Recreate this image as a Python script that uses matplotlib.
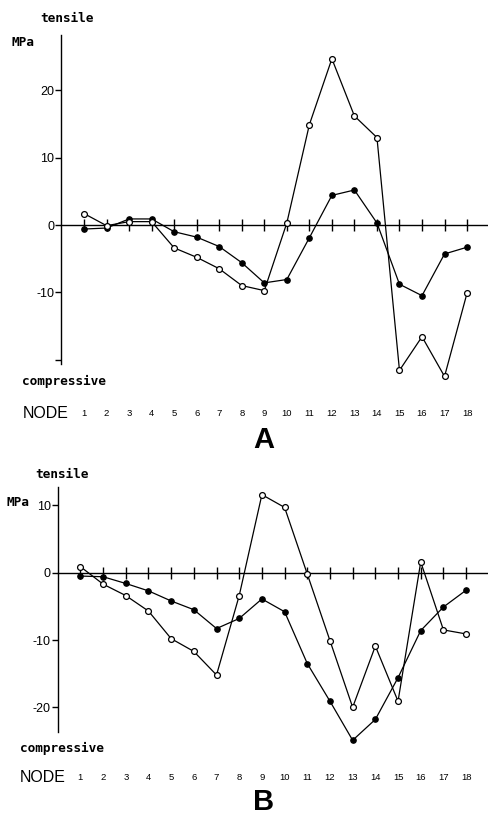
import numpy as np
import matplotlib
matplotlib.use("Agg")
import matplotlib.pyplot as plt
import matplotlib.transforms as mtransforms

# node numbers along the beam
nodes = np.arange(1, 19)

# panel A stresses (MPa)
a_open = [1.7, -0.1, 0.5, 0.5, -3.4, -4.8, -6.5, -9.0, -9.75,
          0.3, 14.9, 24.7, 16.2, 13.0, -21.6, -16.6, -22.5, -10.1]
a_filled = [-0.6, -0.45, 0.9, 0.9, -1.0, -1.8, -3.2, -5.6, -8.6,
            -8.1, -1.9, 4.4, 5.2, 0.3, -8.8, -10.5, -4.3, -3.3]

# panel B stresses (MPa)
b_open = [0.9, -1.7, -3.4, -5.7, -9.8, -11.7, -15.2, -3.4, 11.6,
          9.7, -0.2, -10.1, -20.0, -10.9, -19.1, 1.6, -8.5, -9.1]
b_filled = [-0.5, -0.6, -1.6, -2.7, -4.2, -5.5, -8.3, -6.8, -3.9,
            -5.8, -13.5, -19.1, -24.9, -21.8, -15.6, -8.6, -5.1, -2.6]

a_ticks = [-20, -10, 0, 10, 20]
a_ticklabels = ["", "-10", "0", "10", "20"]
b_ticks = [-20, -10, 0, 10]
b_ticklabels = ["-20", "-10", "0", "10"]

W, H = 489, 817
fig = plt.figure(figsize=(W / 100, H / 100), dpi=100)
fig.patch.set_facecolor("white")

mono = "DejaVu Sans Mono"
sans = "Liberation Sans"
PX_PER_MPA = 6.73


def make_panel(x0, x1, y_zero, ylim, spine_bounds, ticks, ticklabels):
    """Place an axes so that x 0..19 spans pixels x0..x1 and 0 MPa sits at y_zero."""
    top_px = y_zero - ylim[1] * PX_PER_MPA
    bot_px = y_zero - ylim[0] * PX_PER_MPA
    ax = fig.add_axes([x0 / W, 1 - bot_px / H, (x1 - x0) / W, (bot_px - top_px) / H])
    ax.set_xlim(0, 19)
    ax.set_ylim(*ylim)
    ax.patch.set_alpha(0)
    for s in ("top", "right"):
        ax.spines[s].set_visible(False)
    ax.spines["left"].set_bounds(*spine_bounds)
    ax.spines["left"].set_linewidth(1.0)
    ax.spines["bottom"].set_position(("data", 0))
    ax.spines["bottom"].set_linewidth(1.0)
    ax.set_xticks(nodes)
    ax.set_xticklabels([])
    ax.tick_params(axis="x", direction="inout", length=8, width=1.0)
    ax.set_yticks(ticks)
    ax.set_yticklabels(ticklabels, fontsize=9, family=sans)
    ax.tick_params(axis="y", direction="out", length=4, width=1.0, pad=1)
    return ax


def draw_series(ax, open_vals, filled_vals):
    ax.plot(nodes, filled_vals, color="black", lw=0.9, marker="o", ms=3.8,
            mfc="black", mec="black", clip_on=False, zorder=3)
    ax.plot(nodes, open_vals, color="black", lw=0.9, marker="o", ms=4.2,
            mfc="white", mec="black", mew=0.9, clip_on=False, zorder=4)


def node_labels(ax, node_x_px, node_y_px):
    tr = mtransforms.blended_transform_factory(ax.transData, fig.transFigure)
    for n in nodes:
        ax.text(n, 1 - node_y_px / H, str(n), transform=tr, ha="center", va="center",
                fontsize=6.8, family=sans)
    fig.text(node_x_px / W, 1 - node_y_px / H, "NODE",
             ha="left", va="center", fontsize=11.5, family=sans)


def side_text(x, y, s):
    fig.text(x / W, 1 - y / H, s, family=mono, fontweight="bold",
             fontsize=9.2, va="center", ha="left")


# ---- panel A ----
axA = make_panel(61.5, 489.6, 225, (-24, 30), (-20.7, 28.2), a_ticks, a_ticklabels)
draw_series(axA, a_open, a_filled)
side_text(40, 18, "tensile")
side_text(12, 43, "MPa")
side_text(22, 381, "compressive")
node_labels(axA, 23, 413)
fig.text(264 / W, 1 - 440 / H, "A", fontsize=21, fontweight="bold",
         ha="center", va="center", family=sans)

# ---- panel B ----
axB = make_panel(57.7, 488.8, 572.7, (-28, 16), (-23.7, 12.8), b_ticks, b_ticklabels)
draw_series(axB, b_open, b_filled)
side_text(35, 475, "tensile")
side_text(7, 503, "MPa")
side_text(20, 748, "compressive")
node_labels(axB, 20, 778)
fig.text(264 / W, 1 - 802 / H, "B", fontsize=21, fontweight="bold",
         ha="center", va="center", family=sans)

fig.savefig("out.png", dpi=100, facecolor="white")
